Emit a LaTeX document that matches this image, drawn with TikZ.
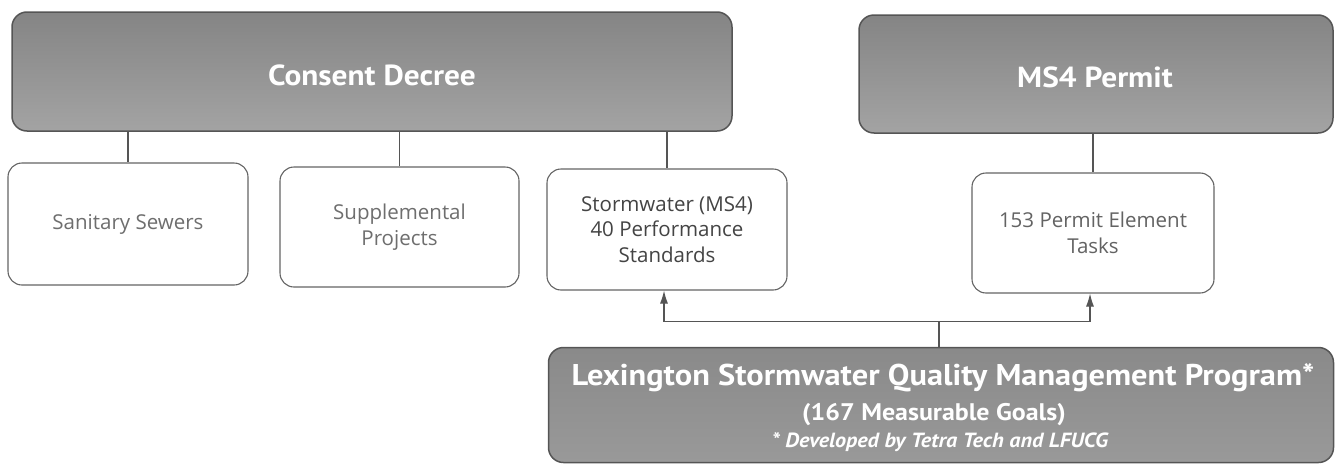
\documentclass[tikz,border=0pt]{standalone}
\usepackage{fontspec}
\setmainfont{Open Sans}
\newfontfamily\hdr{PT Sans}[FakeStretch=1.08]
\usetikzlibrary{arrows.meta,calc}
\definecolor{edgegray}{HTML}{555555}
\definecolor{boxedge}{HTML}{646464}
\definecolor{txtgray}{HTML}{6E6E6E}
\definecolor{txtdark}{HTML}{444444}
\tikzset{
  bigbox/.style={draw=edgegray, line width=1.5pt, rounded corners=15pt,
    top color=black!48, bottom color=black!36, inner sep=0pt},
  hdrtext/.style={text=white, anchor=base, inner sep=0pt, font=\hdr\bfseries\fontsize{29}{32}\selectfont},
  smallbox/.style={draw=boxedge, line width=1.1pt, rounded corners=14pt, fill=white,
    text=txtgray, align=center, inner sep=0pt, minimum width=239pt, minimum height=120pt,
    font=\fontsize{20.5}{25.5}\selectfont},
  link/.style={draw=edgegray, line width=1.1pt},
  arr/.style={draw=edgegray, line width=1.1pt, -{Latex[length=13pt,width=8pt]}}
}
\begin{document}
\begin{tikzpicture}[x=1pt,y=-1pt]
\useasboundingbox (0,0) rectangle (1338,466);
\node[bigbox, minimum width=720pt, minimum height=119pt] (cd) at (372,71.5) {};
\node[hdrtext] (cdt) at (372,85) {Consent Decree};
\node[bigbox, minimum width=474pt, minimum height=118pt] (ms4) at (1096,74) {};
\node[hdrtext] (ms4t) at (1095,87) {MS4 Permit};
\node[smallbox, minimum width=240pt, minimum height=122pt] (san) at (128,224) {Sanitary Sewers};
\node[smallbox] (sup) at (399.5,227) {Supplemental\\Projects};
\node[smallbox, text=txtdark, minimum width=240pt, minimum height=121pt] (sw) at (667,229.5) {Stormwater (MS4)\\40 Performance\\Standards};
\node[smallbox, minimum width=242pt, text=txtgray!90!black] (pet) at (1093,233) {153 Permit Element\\Tasks};
\node[bigbox, minimum width=785pt, minimum height=115pt, top color=black!46, bottom color=black!40] (lex) at (941,405) {};
\node[hdrtext, font=\hdr\bfseries\fontsize{30}{33}\selectfont] (l1) at (943,385) {Lexington Stormwater Quality Management Program*};
\node[hdrtext, font=\hdr\bfseries\fontsize{24}{28}\selectfont] (l2) at (934,420) {(167 Measurable Goals)};
\node[hdrtext, font=\hdr\bfseries\itshape\fontsize{20.5}{24}\selectfont] (l3) at (940,447) {* Developed by Tetra Tech and LFUCG};
\draw[link] (cd.south -| san.north) -- (san.north);
\draw[link] (cd.south -| sup.north) -- (sup.north);
\draw[link] (cd.south -| sw.north) -- (sw.north);
\draw[link] (ms4.south -| pet.north) -- (pet.north);
\coordinate (j) at ($(lex.north)+(-2,-25)$);
\draw[link] (lex.north -| j) -- (j);
\draw[arr] (j) -| ($(sw.south)+(-3,0)$);
\draw[arr] (j) -| ($(pet.south)+(-3,0)$);
\end{tikzpicture}
\end{document}
